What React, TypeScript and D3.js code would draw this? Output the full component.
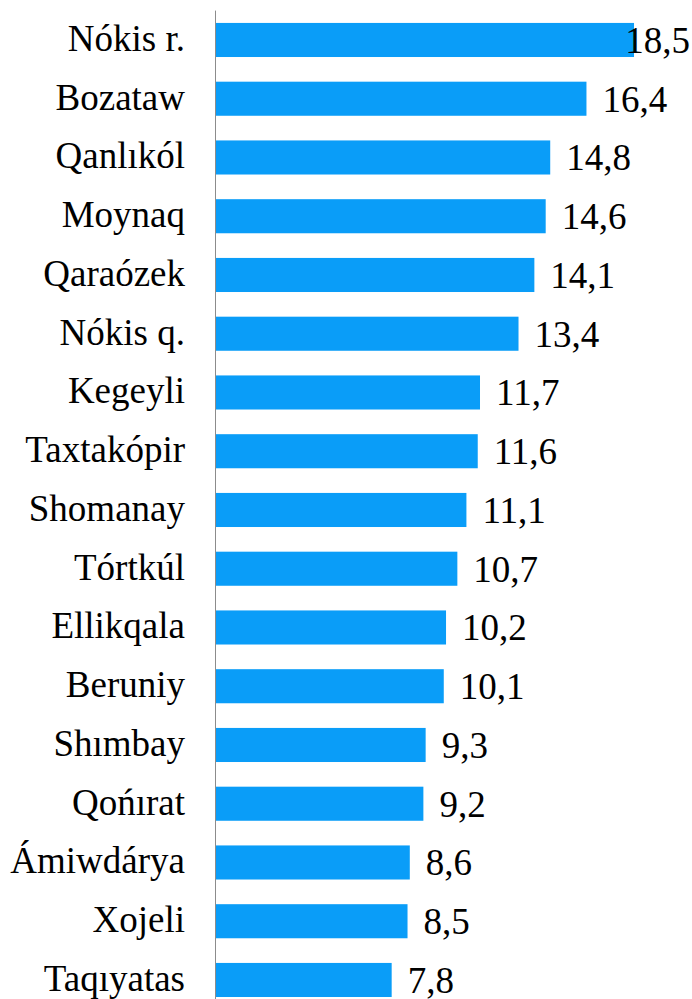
import React, { useEffect, useRef } from "react";
import * as d3 from "d3";

const categories = [
  "Nókis r.", "Bozataw", "Qanlıkól", "Moynaq", "Qaraózek", "Nókis q.", "Kegeyli",
  "Taxtakópir", "Shomanay", "Tórtkúl", "Ellikqala", "Beruniy", "Shımbay", "Qońırat",
  "Ámiwdárya", "Xojeli", "Taqıyatas",
];
const values = [18.5, 16.4, 14.8, 14.6, 14.1, 13.4, 11.7, 11.6, 11.1, 10.7, 10.2, 10.1, 9.3, 9.2, 8.6, 8.5, 7.8];

const W = 692;
const H = 999;

export default function App() {
  const ref = useRef<SVGSVGElement | null>(null);

  useEffect(() => {
    const svg = d3.select(ref.current);
    svg.selectAll("*").remove();
    const data = categories.map((c, i) => ({ c, v: values[i] }));

    const x = d3.scaleLinear().domain([0, 20]).range([215, 215 + 20 * 22.65]);
    const y = d3
      .scaleBand<string>()
      .domain(categories)
      .range([10.6, 10.6 + 17 * 58.75])
      .paddingInner(0.42)
      .paddingOuter(0.21);

    const font = "Liberation Serif";

    svg
      .selectAll("rect.bar")
      .data(data)
      .join("rect")
      .attr("class", "bar")
      .attr("x", x(0))
      .attr("y", (d) => y(d.c)!)
      .attr("width", (d) => x(d.v) - x(0))
      .attr("height", y.bandwidth())
      .attr("fill", "#0A9DF8");

    svg
      .append("line")
      .attr("x1", x(0) + 0.5)
      .attr("x2", x(0) + 0.5)
      .attr("y1", y.range()[0])
      .attr("y2", y.range()[1])
      .attr("stroke", "#8c8c8c")
      .attr("stroke-width", 1);

    svg
      .selectAll("text.cat")
      .data(data)
      .join("text")
      .attr("class", "cat")
      .attr("x", 185)
      .attr("y", (d) => y(d.c)! + y.bandwidth() / 2 + 11)
      .attr("text-anchor", "end")
      .style("font-family", font)
      .style("font-size", "37px")
      .attr("fill", "#000")
      .text((d) => d.c);

    const vals = svg
      .selectAll<SVGTextElement, { c: string; v: number }>("text.val")
      .data(data)
      .join("text")
      .attr("class", "val")
      .attr("y", (d) => y(d.c)! + y.bandwidth() / 2 + 13)
      .style("font-family", font)
      .style("font-size", "37px")
      .attr("fill", "#000")
      .text((d) => d.v.toFixed(1).replace(".", ","));

    vals.each(function (d) {
      const w = this.getComputedTextLength();
      const px = Math.min(x(d.v) + 16, W - 2 - w);
      d3.select(this).attr("x", px);
    });
  }, []);

  return (
    <svg
      ref={ref}
      width={W}
      height={H}
      style={{ position: "absolute", left: 0, top: 0, background: "#fff", display: "block" }}
    />
  );
}
